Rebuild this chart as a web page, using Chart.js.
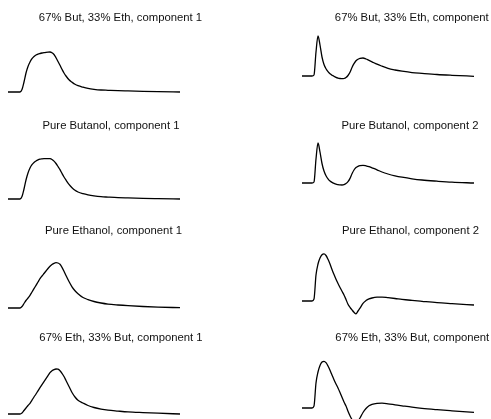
<!DOCTYPE html>
<html>
<head>
<meta charset="utf-8">
<script src="https://cdn.jsdelivr.net/npm/chart.js@4/dist/chart.umd.min.js"></script>
<style>
  html, body { margin: 0; padding: 0; background: #fff; width: 491px; height: 419px; overflow: hidden; position: relative; }
  canvas { position: absolute; }
</style>
</head>
<body>
<script>
// Sample times shared by every trace
const t = [0, 10, 12, 14, 16, 18, 20, 22, 24, 26, 28, 30, 32, 34, 36, 38, 40, 42, 44, 46,
           48, 50, 52, 54, 56, 58, 61, 64, 67, 70, 75, 80, 86, 93, 100, 110, 120, 135, 150, 172];

// Component 1 traces
const but67Comp1 = [0, 0, 0, 2.5, 10, 19, 25.5, 30, 33.3, 35.5, 37, 37.9, 38.5, 39, 39.4, 39.7, 39.9, 40, 39.3, 37.5,
                    34.3, 30.5, 26.7, 22.7, 19, 16, 12.2, 9.8, 7.7, 6.3, 4.8, 3.6, 2.7, 2, 1.7, 1.3, 1.05, 0.7, 0.4, 0];
const butPureComp1 = [0, 0, 0, 2.5, 10, 19, 26, 31, 34.3, 36.5, 38, 39.1, 39.8, 40.1, 40.3, 40.4, 40.4, 40.3, 39.5, 37.9,
                      35.5, 32.5, 29.3, 25.6, 22, 18.9, 14.6, 11.3, 8.7, 7, 5.3, 4.1, 3.1, 2.3, 1.9, 1.4, 1.1, 0.7, 0.4, 0];
const ethPureComp1 = [0, 0, 0, 1.5, 4.5, 7.5, 10, 12.7, 16, 19.3, 22.7, 26, 29.3, 32, 34.5, 37, 39.5, 41.7, 43.5, 44.7,
                      45.3, 45, 43.7, 40.7, 36.8, 32.5, 26.5, 21.2, 17.3, 14.3, 10.5, 8.4, 6.5, 5, 3.9, 3, 2.3, 1.5, 0.9, 0.3];
const eth67Comp1 = [0, 0, 0, 1, 3.5, 6, 8.5, 10.7, 13.8, 17, 20, 23.2, 26.3, 29.3, 32.3, 35.3, 38.3, 41.3, 43.2, 44.4,
                    45, 44.8, 43.3, 40.7, 37.5, 33.5, 27.5, 21.5, 17, 13.8, 11, 8.5, 6.5, 4.9, 3.8, 2.9, 2.1, 1.4, 0.8, 0];

// Component 2 traces
const but67Comp2 = [0, 0, 1, 24, 40, 31, 19, 11.5, 7.2, 4.3, 2.2, 0.8, -0.3, -1.4, -2.1, -2.5, -2.7, -2.5, -1.5, 0.5,
                    3.7, 8.5, 12.3, 15.2, 16.8, 17.7, 18, 17, 15.6, 14.2, 11.8, 9.8, 7.6, 6, 4.8, 3.4, 2.6, 1.5, 0.7, -0.3];
const butPureComp2 = [0, 0, 1, 24, 40, 31, 19.5, 12, 7.3, 4.2, 2, 0.6, -0.4, -1.2, -1.6, -1.9, -2, -1.7, -0.6, 1.3,
                      4.6, 9.3, 13, 15.4, 16.7, 17.4, 17.7, 17.2, 16.4, 15.2, 13.2, 11, 9, 7.2, 5.8, 4.2, 3, 1.8, 0.8, 0];
const ethPureComp2 = [0, 0, 2, 26, 37, 43, 46.3, 47.2, 45.5, 41.7, 37, 31.5, 26.5, 21.7, 17.5, 13.5, 9.7, 6, 1.5, -3.3,
                      -6.3, -8.9, -11.3, -12.8, -10, -7.2, -2.3, 0.4, 2.1, 3, 3.8, 3.9, 3.3, 2.5, 1.6, 0.6, -0.3, -1.6, -2.6, -4];
const eth67Comp2 = [0, 0, 2, 25, 36, 42.5, 46, 46.7, 45.3, 42, 37.8, 33, 28.3, 24, 20, 15.5, 10.8, 6, 2, -3.3,
                    -7.8, -11.5, -13.5, -14, -12.8, -10, -4.5, -0.5, 2.2, 3.6, 4.6, 4.8, 4.2, 3.2, 2.2, 0.8, -0.4, -1.7, -2.8, -4.3];

const panelTitles = [
  "67% But, 33% Eth, component 1", "67% But, 33% Eth, component 2",
  "Pure Butanol, component 1",     "Pure Butanol, component 2",
  "Pure Ethanol, component 1",     "Pure Ethanol, component 2",
  "67% Eth, 33% But, component 1", "67% Eth, 33% But, component 2"
];
const panelSeries = [but67Comp1, but67Comp2, butPureComp1, butPureComp2,
                     ethPureComp1, ethPureComp2, eth67Comp1, eth67Comp2];

// Grid placement of each small plot and its vertical range
const layout = [
  { left: 8,   top: 7,   width: 225, yMin: -15, yMax: 65 },
  { left: 302, top: 7,   width: 229, yMin: -31, yMax: 49 },
  { left: 8,   top: 115, width: 206, yMin: -16, yMax: 64 },
  { left: 302, top: 115, width: 216, yMin: -32, yMax: 48 },
  { left: 8,   top: 220, width: 211, yMin: -12, yMax: 68 },
  { left: 302, top: 220, width: 217, yMin: -19, yMax: 61 },
  { left: 8,   top: 327, width: 226, yMin: -13, yMax: 67 },
  { left: 302, top: 327, width: 230, yMin: -19, yMax: 61 }
];
const PANEL_HEIGHT = 100;

panelSeries.forEach((values, i) => {
  const box = layout[i];
  const canvas = document.createElement('canvas');
  canvas.width = box.width;
  canvas.height = PANEL_HEIGHT;
  canvas.style.left = box.left + 'px';
  canvas.style.top = box.top + 'px';
  canvas.style.width = box.width + 'px';
  canvas.style.height = PANEL_HEIGHT + 'px';
  document.body.appendChild(canvas);

  new Chart(canvas.getContext('2d'), {
    type: 'line',
    data: {
      datasets: [{
        data: t.map((x, k) => ({ x: x, y: values[k] })),
        borderColor: '#000',
        borderWidth: 1.3,
        pointRadius: 0,
        fill: false,
        cubicInterpolationMode: 'monotone'
      }]
    },
    options: {
      responsive: false,
      animation: false,
      events: [],
      layout: { padding: 0 },
      plugins: {
        legend: { display: false },
        tooltip: { enabled: false },
        title: {
          display: true,
          text: panelTitles[i],
          color: '#111',
          font: { family: "'Liberation Sans', Arial, sans-serif", size: 11.3, weight: 'normal', lineHeight: 1.2 },
          padding: { top: 4, bottom: 2.44 }
        }
      },
      scales: {
        x: { type: 'linear', display: false, min: 0, max: box.width },
        y: { type: 'linear', display: false, min: box.yMin, max: box.yMax }
      }
    }
  });
});
</script>
</body>
</html>
